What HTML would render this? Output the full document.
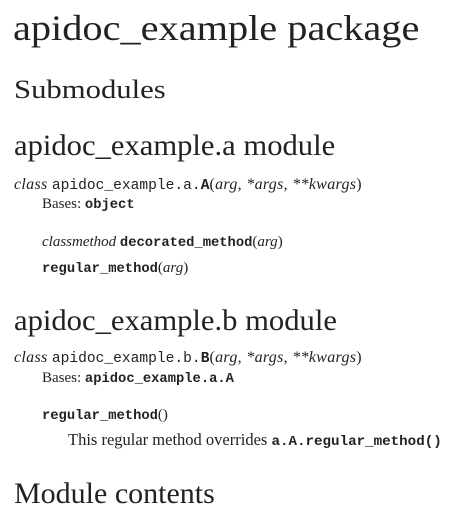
<!DOCTYPE html>
<html><head><style>
body{margin:0;width:460px;height:521px;background:#fff;color:#222;font-family:"Liberation Serif",serif;position:relative;overflow:hidden}
div{position:absolute;white-space:nowrap;line-height:1;transform-origin:0 0}
.m{font-family:"Liberation Mono",monospace;font-weight:bold;font-size:13.8px}
.c{font-family:"Liberation Mono",monospace;font-size:14.6px}
i{font-style:italic}
</style></head><body>
<div style="left:13px;top:10px;font-size:36px;transform:scaleX(1.12)">apidoc_example package</div>
<div style="left:14px;top:77px;font-size:26px;transform:scaleX(1.18)">Submodules</div>
<div style="left:14px;top:131px;font-size:30px;transform:scaleX(1.02)">apidoc_example.a module</div>
<div style="left:14px;top:177px;font-size:16px;letter-spacing:0.3px"><i>class</i> <span class="c" style="letter-spacing:0">apidoc_example.a.<b>A</b></span>(<i>arg</i>, <i>*args</i>, <i>**kwargs</i>)</div>
<div style="left:42px;top:197px;font-size:15px">Bases: <span class="m">object</span></div>
<div style="left:42px;top:235px;font-size:15px"><i>classmethod</i> <span class="m">decorated_method</span>(<i>arg</i>)</div>
<div style="left:42px;top:261px;font-size:15px"><span class="m">regular_method</span>(<i>arg</i>)</div>
<div style="left:14px;top:306px;font-size:30px;transform:scaleX(1.02)">apidoc_example.b module</div>
<div style="left:14px;top:350px;font-size:16px;letter-spacing:0.3px"><i>class</i> <span class="c" style="letter-spacing:0">apidoc_example.b.<b>B</b></span>(<i>arg</i>, <i>*args</i>, <i>**kwargs</i>)</div>
<div style="left:42px;top:371px;font-size:15px">Bases: <span class="m">apidoc_example.a.A</span></div>
<div style="left:42px;top:408px;font-size:15px"><span class="m">regular_method</span>()</div>
<div style="left:68px;top:432px;font-size:16.5px">This regular method overrides <span class="m" style="font-size:14.2px">a.A.regular_method()</span></div>
<div style="left:14px;top:479px;font-size:30px">Module contents</div>
</body></html>
